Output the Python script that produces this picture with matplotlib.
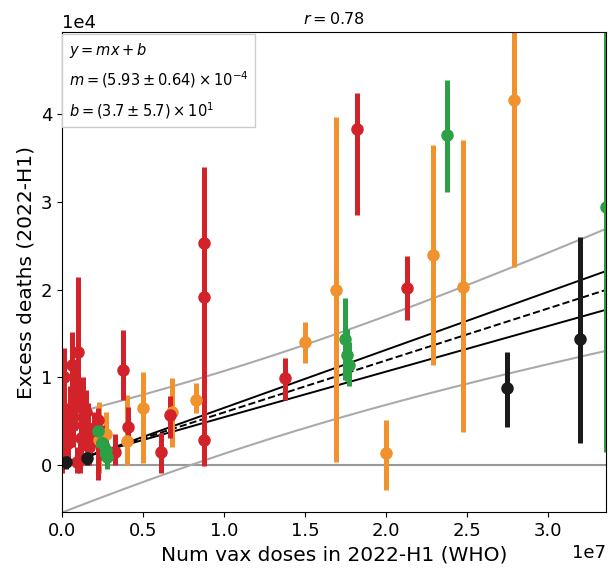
import numpy as np
import matplotlib
matplotlib.use("Agg")
import matplotlib.pyplot as plt

# values: x in units of 1e7 doses, y in units of 1e4 deaths (y, low, high)
red_x = [1.82, 2.13, 0.88, 0.88, 0.88, 1.38, 0.67, 0.61, 0.38, 0.41,
         0.01, 0.06, 0.10, 0.13, 0.22, 0.33, 0.09, 0.02, 0.04, 0.05,
         0.07, 0.12, 0.15, 0.17, 0.20, 0.00, 0.08, 0.25, 0.16, 0.11]
red_y = [3.83, 2.02, 2.53, 1.92, 0.28, 0.99, 0.57, 0.14, 1.08, 0.43,
         1.00, 1.14, 1.29, 0.55, 0.51, 0.14, 0.03, 0.40, 0.25, 0.60,
         0.45, 0.30, 0.60, 0.20, 0.40, 0.15, 0.75, 0.25, 0.42, 0.05]
red_lo = [2.85, 1.65, 1.65, 0.60, -0.02, 0.74, 0.30, -0.09, 0.74, 0.29,
          0.66, 0.66, 0.59, 0.20, -0.17, 0.00, -0.10, 0.10, 0.00, 0.30,
          0.20, 0.05, 0.35, 0.00, 0.20, -0.10, 0.40, 0.05, 0.15, -0.10]
red_hi = [4.25, 2.38, 3.40, 3.20, 1.90, 1.22, 0.78, 0.36, 1.54, 0.66,
          1.33, 1.52, 2.14, 1.00, 0.65, 0.35, 0.20, 0.70, 0.50, 0.90,
          0.80, 0.55, 0.85, 0.40, 0.60, 0.40, 1.10, 0.45, 0.70, 0.25]

orange_x = [1.69, 2.29, 2.00, 2.48, 2.79, 1.50, 0.83, 0.68, 0.50, 0.40, 0.23, 0.27]
orange_y = [2.00, 2.39, 0.13, 2.03, 4.16, 1.40, 0.74, 0.60, 0.65, 0.27, 0.28, 0.35]
orange_lo = [0.03, 1.14, -0.29, 0.37, 2.26, 1.16, 0.59, 0.20, 0.02, 0.00, -0.09, 0.10]
orange_hi = [3.97, 3.65, 0.51, 3.71, 5.20, 1.63, 0.93, 0.99, 1.06, 0.80, 0.72, 0.60]

green_x = [2.38, 3.36, 1.75, 1.76, 1.77, 0.22, 0.27, 0.28, 0.25]
green_y = [3.76, 2.94, 1.43, 1.25, 1.14, 0.38, 0.17, 0.09, 0.25]
green_lo = [3.11, 0.14, 0.97, 0.95, 0.90, 0.20, 0.05, -0.05, 0.10]
green_hi = [4.39, 5.20, 1.90, 1.55, 1.40, 0.55, 0.30, 0.25, 0.40]

black_x = [2.75, 3.20, 0.025, 0.155]
black_y = [0.88, 1.43, 0.03, 0.08]
black_lo = [0.43, 0.25, -0.05, 0.00]
black_hi = [1.29, 2.60, 0.10, 0.15]

# fit results
fit_m = 5.93e-4
fit_b = 37.0
conf_slopes = [6.62e-4, 5.2e-4]
conf_pivot = 0.25e7
pred_a = 0.47e4
pred_s = 2.38e-4
pred_xm = 1.2e7

groups = [
    (orange_x, orange_y, orange_lo, orange_hi, "#f0922e"),
    (red_x, red_y, red_lo, red_hi, "#d2232a"),
    (green_x, green_y, green_lo, green_hi, "#2ca044"),
    (black_x, black_y, black_lo, black_hi, "#1a1a1a"),
]

fig = plt.figure(figsize=(6.10, 5.73), dpi=100)
ax = fig.add_axes([0.1016, 0.1065, 0.8918, 0.8375])

xmin, xmax = 0.0, 3.36e7
xs = np.linspace(xmin, xmax, 300)
fit = fit_m * xs + fit_b
half = np.sqrt(pred_a ** 2 + (pred_s * (xs - pred_xm)) ** 2)

ax.axhline(0, color="#999999", lw=1.5, zorder=1)
ax.plot(xs, fit + half, color="#aaaaaa", lw=1.5, zorder=1)
ax.plot(xs, fit - half, color="#aaaaaa", lw=1.5, zorder=1)
y_piv = fit_m * conf_pivot + fit_b
for s in conf_slopes:
    ax.plot(xs, y_piv + s * (xs - conf_pivot), color="black", lw=1.4, zorder=1.2)
ax.plot(xs, fit, color="black", lw=1.4, ls="--", zorder=1.2)

for gx, gy, glo, ghi, col in groups:
    x = np.array(gx) * 1e7
    y = np.array(gy) * 1e4
    lo = y - np.array(glo) * 1e4
    hi = np.array(ghi) * 1e4 - y
    ax.errorbar(x, y, yerr=[lo, hi], fmt="o", color=col, ms=8,
                elinewidth=3.6, capsize=0, zorder=2)

ax.set_xlim(xmin, xmax)
ax.set_ylim(-0.54e4, 4.94e4)
ax.set_xticks(np.arange(0, 3.01e7, 0.5e7))
ax.set_yticks(np.arange(0, 4.01e4, 1e4))
ax.ticklabel_format(axis="y", style="sci", scilimits=(4, 4))
ax.ticklabel_format(axis="x", style="sci", scilimits=(7, 7))
ax.tick_params(labelsize=13)
ax.xaxis.get_offset_text().set_fontsize(13)
ax.yaxis.get_offset_text().set_fontsize(13)
ax.set_xlabel("Num vax doses in 2022-H1 (WHO)", fontsize=14.5)
ax.set_ylabel("Excess deaths (2022-H1)", fontsize=14.5)
ax.set_title("$r = 0.78$", fontsize=11.5, pad=6)

box_text = ("$y = mx + b$\n"
            "$m = (5.93 \\pm 0.64) \\times 10^{-4}$\n"
            "$b = (3.7 \\pm 5.7) \\times 10^{1}$")
ax.text(0.012, 0.982, box_text, transform=ax.transAxes, va="top", ha="left",
        fontsize=10.5, linespacing=1.6, zorder=5,
        bbox=dict(boxstyle="square,pad=0.45", fc="white", ec="#cccccc", lw=1))

fig.savefig("out.png", dpi=100)
